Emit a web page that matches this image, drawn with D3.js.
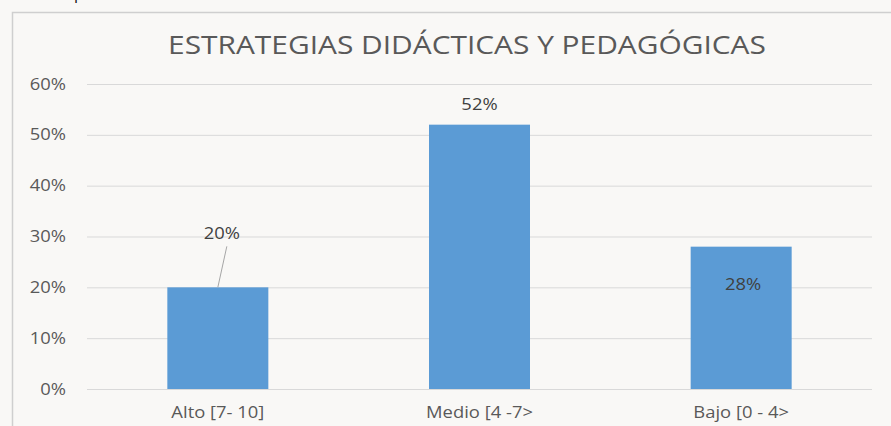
<!DOCTYPE html>
<html>
<head>
<meta charset="utf-8">
<script src="https://cdn.jsdelivr.net/npm/d3@7"></script>
<style>
  html, body { margin: 0; padding: 0; background: #f9f8f6; }
  svg { display: block; }
  text { font-family: "Open Sans", sans-serif; }
</style>
</head>
<body>
<svg id="chart" width="891" height="426"></svg>
<script>
const categories = ["Alto [7- 10]", "Medio [4 -7>", "Bajo [0 - 4>"];
const values = [0.20, 0.52, 0.28];
const tickValues = [0, 0.1, 0.2, 0.3, 0.4, 0.5, 0.6];
const title = "ESTRATEGIAS DIDÁCTICAS Y PEDAGÓGICAS";

const width = 891, height = 426;
const margin = { top: 84, right: 19, bottom: 37, left: 87 };
const stretch = 1.15; // the picture is a bit wider than the font

const svg = d3.select("#chart");

// page background and frame
svg.append("rect").attr("width", width).attr("height", height).attr("fill", "#f9f8f6");
svg.append("path")
    .attr("d", `M12.5,${height} V12.5 H${width}`)
    .attr("fill", "none")
    .attr("stroke", "#cfcfcf")
    .attr("stroke-width", 1.5);

// tail of the line of text above the chart
svg.append("text")
    .attr("x", 74)
    .attr("y", -1)
    .attr("font-size", 16)
    .attr("fill", "#111")
    .text("p");

const x = d3.scaleBand()
    .domain(categories)
    .range([margin.left, width - margin.right])
    .paddingInner(0.614)
    .paddingOuter(0.307);

const y = d3.scaleLinear()
    .domain([0, 0.6])
    .range([height - margin.bottom, margin.top]);

// gridlines
svg.append("g")
    .attr("transform", `translate(${margin.left},0)`)
    .call(d3.axisLeft(y)
        .tickValues(tickValues)
        .tickSize(-(width - margin.left - margin.right))
        .tickFormat(""))
    .call(g => g.select(".domain").remove())
    .selectAll("line")
    .attr("stroke", "#d9d9d9");

// y tick labels
svg.append("g")
    .selectAll("text")
    .data(tickValues)
    .join("text")
    .attr("transform", d => `translate(66,${y(d) + 5.5}) scale(${stretch},1)`)
    .attr("text-anchor", "end")
    .attr("font-size", 16)
    .attr("fill", "#595959")
    .text(d3.format(".0%"));

// bars
svg.append("g")
    .selectAll("rect")
    .data(values)
    .join("rect")
    .attr("x", (d, i) => x(categories[i]))
    .attr("y", d => y(d))
    .attr("width", x.bandwidth())
    .attr("height", d => y(0) - y(d))
    .attr("fill", "#5b9bd5");

// category labels
svg.append("g")
    .selectAll("text")
    .data(categories)
    .join("text")
    .attr("transform", d => `translate(${x(d) + x.bandwidth() / 2},${height - margin.bottom + 29}) scale(${stretch},1)`)
    .attr("text-anchor", "middle")
    .attr("font-size", 16)
    .attr("fill", "#595959")
    .text(d => d);

// data labels (Excel moved two of them)
const labelOffsets = [
    { dx: 4, dy: -48, leader: true },
    { dx: 0, dy: -15, leader: false },
    { dx: 2, dy: 43, leader: false }
];

const labels = svg.append("g");
values.forEach((v, i) => {
    const cx = x(categories[i]) + x.bandwidth() / 2;
    const o = labelOffsets[i];
    if (o.leader) {
        labels.append("line")
            .attr("x1", cx + o.dx + 5)
            .attr("y1", y(v) + o.dy + 7)
            .attr("x2", cx)
            .attr("y2", y(v))
            .attr("stroke", "#a6a6a6")
            .attr("stroke-width", 1);
    }
    labels.append("text")
        .attr("transform", `translate(${cx + o.dx},${y(v) + o.dy}) scale(${stretch},1)`)
        .attr("text-anchor", "middle")
        .attr("font-size", 16)
        .attr("fill", "#404040")
        .text(d3.format(".0%")(v));
});

// title
svg.append("text")
    .attr("transform", `translate(467,54) scale(${stretch},1)`)
    .attr("text-anchor", "middle")
    .attr("font-size", 26)
    .attr("fill", "#595959")
    .text(title);
</script>
</body>
</html>
